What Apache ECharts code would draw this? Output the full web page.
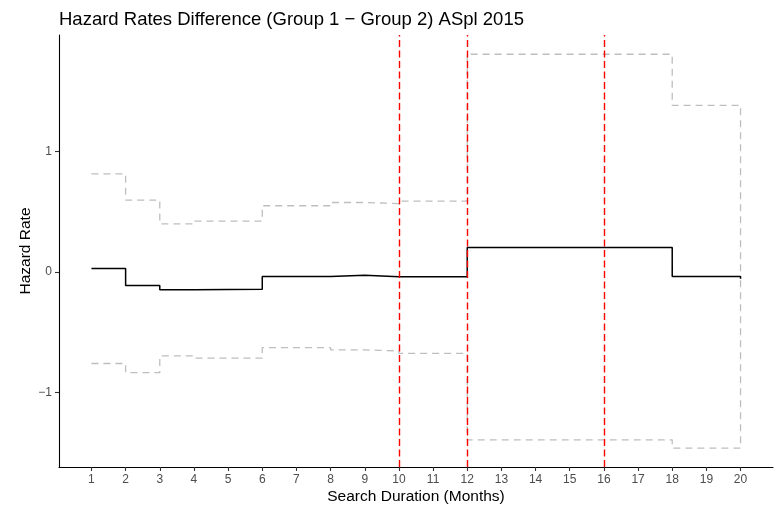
<!DOCTYPE html>
<html>
<head>
<meta charset="utf-8">
<script src="https://cdn.jsdelivr.net/npm/echarts@6/dist/echarts.min.js"></script>
<style>
  html, body { margin: 0; padding: 0; background: #ffffff; }
  #chart { width: 777px; height: 510px; }
</style>
</head>
<body>
<div id="chart"></div>
<script>
// Month at which each step begins
const months = [1, 2, 3, 4, 6, 8, 9, 10, 12, 18, 20];
// Hazard rate difference (Group 1 - Group 2)
const estimate = [0.03, -0.112, -0.147, -0.143, -0.037, -0.027, -0.04, -0.04, 0.205, -0.036, -0.055];
// Confidence band
const upperCI = [0.816, 0.598, 0.40, 0.424, 0.551, 0.578, 0.569, 0.589, 1.81, 1.386, -0.055];
const lowerCI = [-0.76, -0.835, -0.697, -0.716, -0.628, -0.647, -0.655, -0.676, -1.394, -1.463, -0.055];
// Reference months marked in red
const markerMonths = [10, 12, 16];
// Axis ticks
const xTicks = [1, 2, 3, 4, 5, 6, 7, 8, 9, 10, 11, 12, 13, 14, 15, 16, 17, 18, 19, 20];
const yTicks = [-1, 0, 1];

const FONT = 'Liberation Sans, Arial, sans-serif';
const pairs = vals => months.map((m, i) => [m, vals[i]]);

const chart = echarts.init(document.getElementById('chart'), null, { renderer: 'canvas' });

const bandStyle = { color: '#bebebe', width: 1.3, type: [7, 5] };

chart.setOption({
  animation: false,
  backgroundColor: '#ffffff',
  title: {
    text: 'Hazard Rates Difference (Group 1 \u2212 Group 2) ASpl 2015',
    left: 54,
    top: 5,
    textStyle: { fontFamily: FONT, fontSize: 18.5, fontWeight: 'normal', color: '#000000' }
  },
  grid: { left: 59, right: 4, top: 35, bottom: 39.5, containLabel: false },
  xAxis: {
    type: 'value',
    min: 0.05,
    max: 20.95,
    name: 'Search Duration (Months)',
    nameLocation: 'middle',
    nameGap: 22,
    nameMoveOverlap: false,
    nameTextStyle: { fontFamily: FONT, fontSize: 15.5, color: '#000000' },
    splitLine: { show: false },
    axisLine: { show: true, onZero: false, lineStyle: { color: '#000000', width: 1.1 } },
    axisTick: { show: true, length: 4, customValues: xTicks, lineStyle: { color: '#333333', width: 1.1 } },
    axisLabel: { customValues: xTicks, margin: 7, fontFamily: FONT, fontSize: 12, color: '#4d4d4d' }
  },
  yAxis: {
    type: 'value',
    min: -1.62,
    max: 1.97,
    name: 'Hazard Rate',
    nameLocation: 'middle',
    nameGap: 25,
    nameMoveOverlap: false,
    nameRotate: 90,
    nameTextStyle: { fontFamily: FONT, fontSize: 15.5, color: '#000000' },
    splitLine: { show: false },
    axisLine: { show: true, onZero: false, lineStyle: { color: '#000000', width: 1.1 } },
    axisTick: { show: true, length: 4, customValues: yTicks, lineStyle: { color: '#333333', width: 1.1 } },
    axisLabel: {
      customValues: yTicks,
      margin: 7,
      fontFamily: FONT,
      fontSize: 12,
      color: '#4d4d4d',
      formatter: v => (v < 0 ? '\u2212' + Math.abs(v) : String(v))
    }
  },
  series: [
    {
      name: 'Upper',
      type: 'line',
      step: 'end',
      showSymbol: false,
      silent: true,
      data: pairs(upperCI),
      lineStyle: bandStyle,
      z: 2
    },
    {
      name: 'Lower',
      type: 'line',
      step: 'end',
      showSymbol: false,
      silent: true,
      data: pairs(lowerCI),
      lineStyle: bandStyle,
      z: 2
    },
    {
      name: 'Estimate',
      type: 'line',
      step: 'end',
      showSymbol: false,
      silent: true,
      data: pairs(estimate),
      lineStyle: { color: '#000000', width: 1.5 },
      z: 3,
      markLine: {
        silent: true,
        symbol: ['none', 'none'],
        label: { show: false },
        lineStyle: { color: '#ff0000', width: 1.4, type: [7, 3.5] },
        data: markerMonths.map(m => ({ xAxis: m }))
      }
    }
  ]
});
</script>
</body>
</html>
